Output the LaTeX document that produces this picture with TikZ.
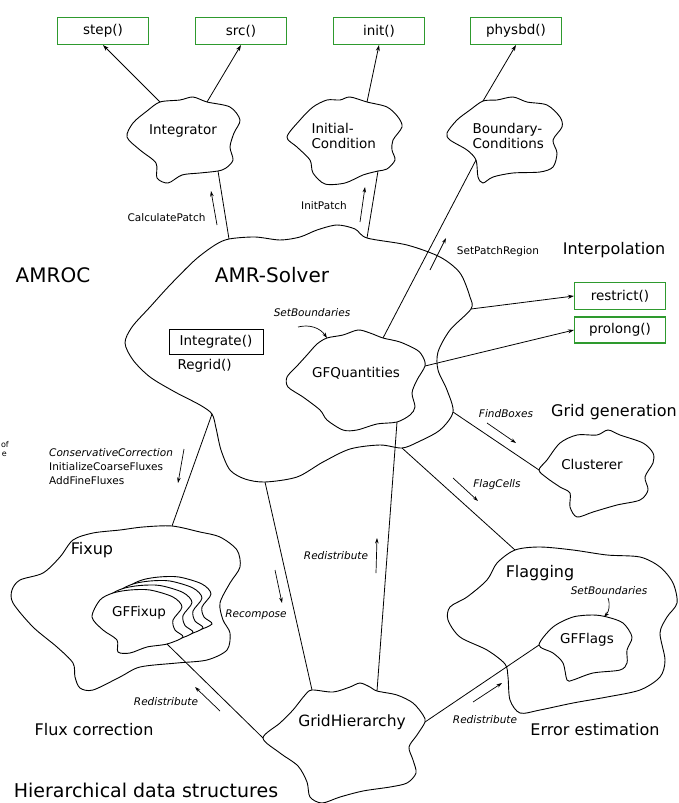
\documentclass[tikz,border=0pt]{standalone}
\usepackage{fontspec}
\setmainfont{DejaVu Sans}
\usetikzlibrary{arrows.meta}
\definecolor{fngreen}{HTML}{2E9A2E}

\begin{document}
\begin{tikzpicture}[x=1pt,y=-1pt,
  cloud/.style={draw,line width=0.9pt},
  conn/.style={line width=0.8pt},
  arrowto/.style={conn,-{Stealth[length=6pt,width=4pt]}},
  ann/.style={line width=0.7pt,-{Stealth[length=5.5pt,width=3.6pt]}},
  fn/.style={draw=fngreen,line width=1.1pt,minimum width=91pt,minimum height=27pt,inner sep=0pt,font=\fontsize{13.5}{15}\selectfont},
  big/.style={font=\fontsize{20}{24}\selectfont},
  sect/.style={font=\fontsize{16}{19}\selectfont},
  cl/.style={font=\fontsize{13.5}{15.5}\selectfont},
  lbl/.style={font=\fontsize{10.5}{14}\selectfont},
  ilbl/.style={font=\fontsize{10.5}{14}\selectfont\itshape}]
  \useasboundingbox (0,0) rectangle (679,803);

  % routines
  \node[fn] (step) at (103,31) {step()};
  \node[fn] (src) at (241,31) {src()};
  \node[fn] (init) at (379,31) {init()};
  \node[fn] (physbd) at (516,31) {physbd()};
  \node[fn] (restrict) at (620,296) {restrict()};
  \node[fn,minimum height=26pt] (prolong) at (620,330) {prolong()};

  % clouds
  \draw[cloud] plot[smooth cycle] coordinates {(160,102) (180,100) (193,97) (207,102) (230,107) (240,120) (234,133) (230,147) (233,160) (226,168) (218,171) (200,173) (182,175) (168,183) (157,178) (156,163) (140,150) (127,137) (133,123) (147,111)};
  \draw[cloud] plot[smooth cycle] coordinates {(287,137) (300,120) (313,107) (327,100) (340,100) (350,97) (367,102) (387,107) (398,117) (402,127) (393,140) (392,150) (395,160) (387,169) (378,171) (363,175) (345,183) (325,184) (313,173) (310,160) (297,147)};
  \draw[cloud] plot[smooth cycle] coordinates {(483,101) (497,100) (513,97) (527,102) (547,105) (560,117) (562,127) (553,140) (557,153) (553,167) (540,172) (513,173) (493,177) (483,183) (478,177) (476,160) (467,150) (450,140) (447,133) (457,120) (470,110)};
  \draw[cloud] plot[smooth cycle] coordinates {(229,239) (255,237) (280,240) (300,237) (317,230) (337,225) (355,229) (367,238) (407,245) (440,257) (460,273) (470,297) (471,309) (450,330) (438,352) (438,370) (447,390) (453,412) (440,430) (418,442) (402,448) (380,445) (350,449) (323,462) (297,477) (265,482) (245,479) (230,470) (221,450) (216,428) (212,414) (200,405) (175,392) (150,377) (133,360) (125,343) (132,327) (150,307) (170,285) (195,260) (215,245)};
  \draw[cloud] plot[smooth cycle] coordinates {(327,338) (343,335) (358,330) (370,333) (383,338) (400,342) (417,350) (423,357) (425,366) (417,380) (412,393) (415,407) (410,415) (397,422) (377,424) (357,430) (343,430) (327,420) (320,410) (303,397) (288,387) (287,377) (297,366) (307,355) (317,344)};
  \draw[cloud] plot[smooth cycle] coordinates {(539,470) (547,460) (560,443) (577,435) (597,435) (608,430) (620,435) (643,443) (653,453) (653,463) (645,477) (648,490) (640,500) (617,505) (593,512) (577,517) (570,507) (570,493) (560,487) (547,478)};
  \draw[cloud] plot[smooth cycle] coordinates {(515,550) (540,547) (573,550) (607,555) (640,557) (660,567) (673,583) (677,603) (667,617) (660,633) (665,660) (660,677) (640,690) (607,697) (573,703) (540,710) (520,713) (510,700) (508,677) (505,664) (487,650) (460,637) (448,620) (450,607) (467,597) (487,580) (497,563)};
  \draw[cloud] plot[smooth cycle] coordinates {(539,645) (553,627) (573,617) (593,615) (607,617) (623,623) (632,637) (627,650) (627,663) (620,670) (593,673) (573,680) (567,680) (563,663) (553,653)};
  \draw[cloud] plot[smooth cycle] coordinates {(172,526) (200,532) (220,537) (237,550) (240,567) (230,583) (220,603) (223,620) (230,633) (227,650) (207,660) (177,663) (140,667) (120,677) (93,690) (80,688) (75,677) (73,663) (57,647) (33,627) (13,603) (12,590) (20,580) (43,573) (60,557) (73,540) (93,533) (120,530) (143,527)};
  \foreach \dx/\dy in {29/-13,20/-9,10/-4.5,0/0}
    \draw[cloud,fill=white,shift={(\dx,\dy)}] plot[smooth cycle] coordinates {(92,617) (100,600) (113,593) (130,590) (150,590) (173,597) (182,607) (173,620) (175,630) (183,637) (167,644) (147,647) (130,653) (118,652) (117,640) (103,630)};
  \draw[cloud] plot[smooth cycle] coordinates {(312,690) (333,692) (350,687) (360,683) (370,687) (377,691) (397,695) (413,703) (423,715) (425,722) (417,735) (409,747) (413,760) (416,773) (407,783) (390,787) (363,791) (340,797) (322,803) (310,797) (307,782) (298,766) (280,753) (263,738) (280,723) (293,710) (305,695)};

  % cloud names
  \node[cl] (integrator) at (183,131) {Integrator};
  \node[cl,align=left,anchor=west] (initcond) at (308,136) {Initial-\\Condition};
  \node[cl,align=left,anchor=west] (bndcond) at (469,136) {Boundary-\\Conditions};
  \node[big] (amrsolver) at (272,275) {AMR-Solver};
  \node[cl,draw,line width=0.9pt,minimum width=94pt,minimum height=25pt,inner sep=0pt] (integrate) at (216,342) {Integrate()};
  \node[cl,anchor=west] (regrid) at (174,366) {Regrid()};
  \node[cl] (gfquant) at (356,373) {GFQuantities};
  \node[cl] (clusterer) at (592,464) {Clusterer};
  \node[sect] (flagging) at (540,573) {Flagging};
  \node[cl] (gfflags) at (587,640) {GFFlags};
  \node[sect] (fixup) at (92,550) {Fixup};
  \node[cl] (gffixup) at (139,613) {GFFixup};
  \node[cl,font=\fontsize{15.5}{18}\selectfont] (gridhier) at (352,722) {GridHierarchy};

  % section titles
  \node[big] (amroc) at (53,275) {AMROC};
  \node[sect] (interp) at (614,250) {Interpolation};
  \node[sect] (gridgen) at (614,412) {Grid generation};
  \node[sect] (errest) at (595,730) {Error estimation};
  \node[sect] (fluxcorr) at (94,730) {Flux correction};
  \node[big,font=\fontsize{19}{22}\selectfont] (hierds) at (146,790) {Hierarchical data structures};
  \node[font=\fontsize{8}{9}\selectfont,anchor=east,inner sep=0pt] (cutof) at (9,445) {of};
  \node[font=\fontsize{8}{9}\selectfont,anchor=east,inner sep=0pt] (cute) at (7,454) {e};

  % border points
  \coordinate (intN1) at (160,102);
  \coordinate (intN2) at (207,102);
  \coordinate (intS) at (218,171);
  \coordinate (icN) at (367,102);
  \coordinate (icS) at (378,171);
  \coordinate (bcN) at (483,101);
  \coordinate (bcS) at (476,160);
  \coordinate (amrN1) at (229,239);
  \coordinate (amrN2) at (367,238);
  \coordinate (amrE) at (471,309);
  \coordinate (amrW) at (212,414);
  \coordinate (amrSE) at (453,412);
  \coordinate (amrS1) at (265,482);
  \coordinate (amrS2) at (402,448);
  \coordinate (gfqN) at (383,338);
  \coordinate (gfqE) at (425,366);
  \coordinate (gfqS) at (397,422);
  \coordinate (clW) at (539,470);
  \coordinate (flgN) at (515,550);
  \coordinate (gffW) at (539,645);
  \coordinate (fixN) at (172,526);
  \coordinate (gfxS) at (167,644);
  \coordinate (ghN1) at (312,690);
  \coordinate (ghN2) at (377,691);
  \coordinate (ghW) at (263,738);
  \coordinate (ghE) at (425,722);

  \draw[arrowto] (intN1) -- (step.south);
  \draw[arrowto] (intN2) -- (src.south);
  \draw[arrowto] (icN) -- (init.south);
  \draw[arrowto] (bcN) -- (physbd.south);
  \draw[arrowto] (amrE) -- (restrict.west);
  \draw[arrowto] (gfqE) -- (prolong.west);
  \draw[conn] (intS) -- (amrN1);
  \draw[conn] (icS) -- (amrN2);
  \draw[conn] (bcS) -- (gfqN);
  \draw[conn] (amrW) -- (fixN);
  \draw[conn] (amrS1) -- (ghN1);
  \draw[conn] (gfqS) -- (ghN2);
  \draw[conn] (amrSE) -- (clW);
  \draw[conn] (amrS2) -- (flgN);
  \draw[conn] (gfxS) -- (ghW);
  \draw[conn] (ghE) -- (gffW);

  % call labels
  \node[lbl,anchor=east] (calcpatch) at (209,218) {CalculatePatch};
  \node[lbl] (initpatch) at (324,206) {InitPatch};
  \node[lbl] (setpatch) at (498,252) {SetPatchRegion};
  \node[ilbl] (setbnd1) at (312,313) {SetBoundaries};
  \node[ilbl] (findbox) at (506,414) {FindBoxes};
  \node[ilbl] (flagcells) at (497,485) {FlagCells};
  \node[ilbl] (setbnd2) at (609,591) {SetBoundaries};
  \node[lbl,align=left,anchor=north west,inner sep=0pt] (consfix) at (49,448) {\itshape ConservativeCorrection\\InitializeCoarseFluxes\\AddFineFluxes};
  \node[ilbl] (recomp) at (256,615) {Recompose};
  \node[ilbl] (redist1) at (336,556) {Redistribute};
  \node[ilbl] (redist2) at (166,702) {Redistribute};
  \node[ilbl] (redist3) at (485,720) {Redistribute};

  \coordinate (cpA) at (217,225);  \coordinate (cpB) at (211,191);
  \coordinate (ipA) at (360,222);  \coordinate (ipB) at (365,187);
  \coordinate (spA) at (430,270);  \coordinate (spB) at (446,238);
  \coordinate (sbA) at (298,327);  \coordinate (sbB) at (327,338);
  \coordinate (fbA) at (487,423);  \coordinate (fbB) at (516,443);
  \coordinate (fcA) at (453,478);  \coordinate (fcB) at (478,501);
  \coordinate (ccA) at (184,449);  \coordinate (ccB) at (178,483);
  \coordinate (rcA) at (275,570);  \coordinate (rcB) at (282,603);
  \coordinate (r1A) at (376,573);  \coordinate (r1B) at (377,538);
  \coordinate (r2A) at (220,711);  \coordinate (r2B) at (195,687);
  \coordinate (r3A) at (473,702);  \coordinate (r3B) at (502,683);
  \coordinate (s2A) at (608,598);  \coordinate (s2B) at (604,617);
  \draw[ann] (cpA) -- (cpB);
  \draw[ann] (ipA) -- (ipB);
  \draw[ann] (spA) -- (spB);
  \draw[ann] (sbA) to[bend left=35] (sbB);
  \draw[ann] (fbA) -- (fbB);
  \draw[ann] (fcA) -- (fcB);
  \draw[ann] (ccA) -- (ccB);
  \draw[ann] (rcA) -- (rcB);
  \draw[ann] (r1A) -- (r1B);
  \draw[ann] (r2A) -- (r2B);
  \draw[ann] (r3A) -- (r3B);
  \draw[ann] (s2A) to[bend left=30] (s2B);
\end{tikzpicture}
\end{document}
